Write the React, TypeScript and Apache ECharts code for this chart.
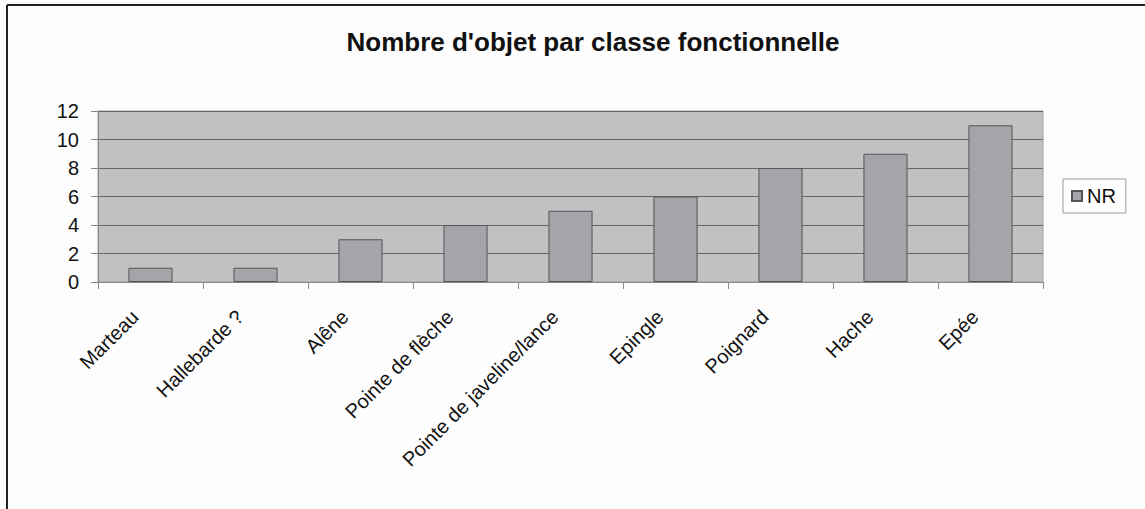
import React, { useEffect, useRef } from "react";
import * as echarts from "echarts";

const categories = [
  "Marteau",
  "Hallebarde ?",
  "Alêne",
  "Pointe de flèche",
  "Pointe de javeline/lance",
  "Epingle",
  "Poignard",
  "Hache",
  "Epée",
];
const nrValues = [1, 1, 3, 4, 5, 6, 8, 9, 11];
const seriesName = "NR";
const titleText = "Nombre d'objet par classe fonctionnelle";

export default function App() {
  const ref = useRef<HTMLDivElement>(null);
  useEffect(() => {
    if (!ref.current) return;
    const chart = echarts.init(ref.current, null, { renderer: "svg" });
    const font = "'Liberation Sans', Arial, sans-serif";
    chart.setOption({
      animation: false,
      backgroundColor: "#fdfdfd",
      textStyle: { fontFamily: font },
      title: {
        text: titleText,
        left: 588,
        textAlign: "center",
        top: 24,
        textStyle: { fontSize: 26, fontWeight: "bold", color: "#111", fontFamily: font },
      },
      legend: {
        data: [seriesName],
        left: 1063,
        top: 179,
        orient: "vertical",
        backgroundColor: "#ffffff",
        borderColor: "#999",
        borderWidth: 1,
        borderRadius: 0,
        padding: [7, 10, 7, 8],
        icon: "rect",
        itemWidth: 10,
        itemHeight: 10,
        itemGap: 4,
        textStyle: { fontSize: 20, color: "#111", fontFamily: font },
      },
      grid: {
        left: 98,
        top: 111,
        right: 102,
        bottom: 227,
        show: true,
        backgroundColor: "#c0c1c3",
        borderColor: "#a0a0a0",
        borderWidth: 1,
        containLabel: false,
      },
      xAxis: {
        type: "category",
        data: categories,
        boundaryGap: true,
        axisLine: { show: true, lineStyle: { color: "#888", width: 1 } },
        axisTick: { show: true, interval: 0, length: 7, lineStyle: { color: "#888" } },
        axisLabel: {
          interval: 0,
          rotate: 45,
          margin: 16,
          padding: [0, 22, 0, 0],
          fontSize: 20,
          color: "#111",
          fontFamily: font,
        },
      },
      yAxis: {
        type: "value",
        min: 0,
        max: 12,
        interval: 2,
        axisLine: { show: true, lineStyle: { color: "#888", width: 1 } },
        axisTick: { show: true, length: 7, lineStyle: { color: "#888" } },
        axisLabel: { fontSize: 20, color: "#111", margin: 19, fontFamily: font },
        splitLine: { show: true, lineStyle: { color: "#666", width: 1 } },
      },
      series: [
        {
          name: seriesName,
          type: "bar",
          data: nrValues,
          barWidth: "42%",
          itemStyle: { color: "#a4a5a8", borderColor: "#555", borderWidth: 1 },
        },
      ],
      graphic: [
        { type: "line", shape: { x1: 7, y1: 5, x2: 1145, y2: 5 }, style: { stroke: "#222", lineWidth: 2 } },
        { type: "line", shape: { x1: 7, y1: 5, x2: 7, y2: 509 }, style: { stroke: "#222", lineWidth: 2 } },
      ],
    });
    return () => chart.dispose();
  }, []);
  return (
    <div
      ref={ref}
      style={{ position: "fixed", left: 0, top: 0, width: 1145, height: 509 }}
    />
  );
}
